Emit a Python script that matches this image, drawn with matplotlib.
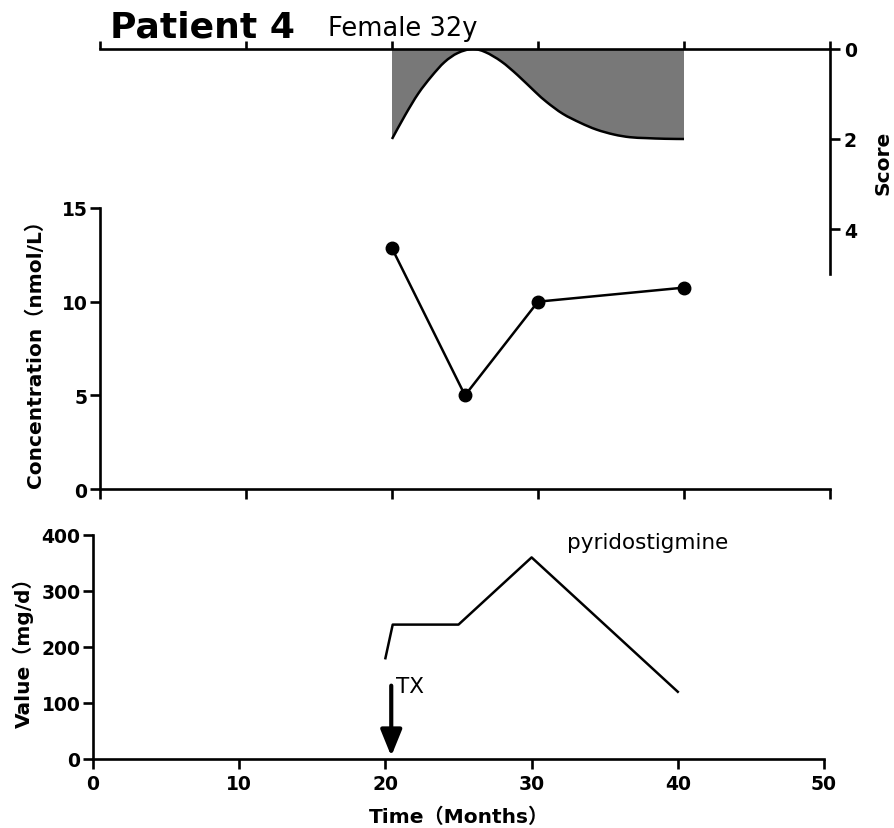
import matplotlib
matplotlib.use("Agg")
import matplotlib.pyplot as plt
from matplotlib.patches import FancyArrowPatch, PathPatch
from matplotlib.path import Path

plt.rcParams['font.family'] = ['DejaVu Sans', 'Noto Sans CJK SC']

# ---------------- data ----------------
score_months = [20, 20.9, 21.8, 22.7, 23.6, 24.5, 25.5, 26.4, 27.5, 28.6, 29.8,
                30.6, 31.7, 32.9, 34.0, 35.2, 36.3, 37.4, 38.7, 40]
score_values = [2.0, 1.47, 0.99, 0.61, 0.29, 0.09, 0.0, 0.07, 0.28, 0.58, 0.95,
                1.18, 1.44, 1.64, 1.79, 1.90, 1.96, 1.98, 1.995, 2.0]

conc_months = [20, 25, 30, 40]
conc_values = [12.85, 5.0, 10.0, 10.75]

dose_months = [20, 20.5, 25, 30, 40]
dose_values = [180, 240, 240, 360, 120]

x_ticks = [0, 10, 20, 30, 40, 50]
score_ticks = [0, 2, 4]
conc_ticks = [0, 5, 10, 15]
dose_ticks = [0, 100, 200, 300, 400]

tx_month = 20.4
tx_arrow_top = 131
tx_arrow_tip = 5

title_text = "Patient 4"
subtitle_text = "Female 32y"
drug_text = "pyridostigmine"

# ---------------- figure ----------------
W, H = 894, 829
fig = plt.figure(figsize=(W / 100, H / 100), dpi=100)

def px_axes(x0, x1, ytop, ybot):
    return fig.add_axes([x0 / W, 1 - ybot / H, (x1 - x0) / W, (ybot - ytop) / H])

LW = 1.9
TICKFS = 13.5
LABFS = 14.5

ax_s = px_axes(100, 830, 50, 275)
ax_c = px_axes(100, 830, 209, 490)
ax_d = px_axes(93, 824, 536, 760)

for ax in (ax_s, ax_c, ax_d):
    ax.set_facecolor('none')
    for sp in ax.spines.values():
        sp.set_linewidth(LW)
    ax.tick_params(width=LW, length=7, labelsize=TICKFS, direction='out')

# ---- top score panel: smooth curve through the read points (Catmull-Rom as Bezier) ----
def smooth_path(xs, ys):
    n = len(xs)
    verts = [(xs[0], ys[0])]
    codes = [Path.MOVETO]
    for i in range(n - 1):
        p0 = (xs[max(i - 1, 0)], ys[max(i - 1, 0)])
        p1 = (xs[i], ys[i])
        p2 = (xs[i + 1], ys[i + 1])
        p3 = (xs[min(i + 2, n - 1)], ys[min(i + 2, n - 1)])
        c1 = (p1[0] + (p2[0] - p0[0]) / 6, p1[1] + (p2[1] - p0[1]) / 6)
        c2 = (p2[0] - (p3[0] - p1[0]) / 6, p2[1] - (p3[1] - p1[1]) / 6)
        verts += [c1, c2, p2]
        codes += [Path.CURVE4] * 3
    return verts, codes

cv, cc = smooth_path(score_months, score_values)
fill_verts = cv + [(score_months[-1], 0), (score_months[0], 0), (score_months[0], score_values[0])]
fill_codes = cc + [Path.LINETO, Path.LINETO, Path.CLOSEPOLY]
ax_s.add_patch(PathPatch(Path(fill_verts, fill_codes), facecolor='#787878',
                         edgecolor='none', lw=0))
ax_s.add_patch(PathPatch(Path(cv, cc), facecolor='none', edgecolor='black', lw=1.8))
ax_s.set_xlim(0, 50)
ax_s.set_ylim(5, 0)
ax_s.spines['left'].set_visible(False)
ax_s.spines['bottom'].set_visible(False)
ax_s.xaxis.tick_top()
ax_s.set_xticks(x_ticks)
ax_s.tick_params(axis='x', labeltop=False, length=5.5)
ax_s.yaxis.tick_right()
ax_s.set_yticks(score_ticks)
ax_s.set_yticklabels([str(t) for t in score_ticks], fontweight='bold', fontsize=TICKFS)
ax_s.tick_params(axis='y', pad=3)
ax_s.yaxis.set_label_position('right')
ax_s.set_ylabel('Score', fontsize=LABFS, fontweight='bold')
ax_s.yaxis.label.set_verticalalignment('center')
ax_s.yaxis.set_label_coords((883 - 100) / 730, 0.5)

# ---- middle concentration panel ----
ax_c.plot(conc_months, conc_values, color='black', lw=1.8, marker='o',
          markersize=9, markerfacecolor='black', clip_on=False)
ax_c.set_xlim(0, 50)
ax_c.set_ylim(0, 15)
ax_c.spines['top'].set_visible(False)
ax_c.spines['right'].set_visible(False)
ax_c.set_xticks(x_ticks)
ax_c.tick_params(axis='x', labelbottom=False)
ax_c.set_yticks(conc_ticks)
ax_c.set_yticklabels([str(t) for t in conc_ticks], fontweight='bold', fontsize=TICKFS)
ax_c.tick_params(axis='y', pad=2)
ax_c.set_ylabel('Concentration（nmol/L）', fontsize=LABFS, fontweight='bold')
ax_c.yaxis.label.set_verticalalignment('center')
ax_c.yaxis.set_label_coords((35 - 100) / 730, 0.5)

# ---- bottom dose panel ----
ax_d.plot(dose_months, dose_values, color='black', lw=1.8)
ax_d.set_xlim(0, 50)
ax_d.set_ylim(0, 400)
ax_d.spines['top'].set_visible(False)
ax_d.spines['right'].set_visible(False)
ax_d.set_xticks(x_ticks)
ax_d.set_xticklabels([str(t) for t in x_ticks], fontweight='bold', fontsize=TICKFS)
ax_d.set_yticks(dose_ticks)
ax_d.set_yticklabels([str(t) for t in dose_ticks], fontweight='bold', fontsize=TICKFS)
ax_d.tick_params(axis='y', pad=2)
ax_d.tick_params(axis='x', pad=4)
ax_d.set_ylabel('Value（mg/d）', fontsize=LABFS, fontweight='bold')
ax_d.yaxis.label.set_verticalalignment('center')
ax_d.yaxis.set_label_coords((23 - 93) / 731, 0.5)
ax_d.set_xlabel('Time（Months）', fontsize=LABFS, fontweight='bold')
ax_d.xaxis.label.set_verticalalignment('center')
ax_d.xaxis.set_label_coords(0.5, (760 - 817) / 224)

arrow = FancyArrowPatch((tx_month, tx_arrow_top), (tx_month, tx_arrow_tip),
                        arrowstyle='-|>,head_length=16,head_width=6.5',
                        mutation_scale=1, lw=3, color='black',
                        shrinkA=0, shrinkB=0)
ax_d.add_patch(arrow)
ax_d.text(tx_month + 0.35, tx_arrow_top, 'TX', fontsize=15.5, va='center', ha='left')
ax_d.text(32.4, 387, drug_text, fontsize=15.5, va='center', ha='left')

# ---- titles ----
fig.text(110 / W, 1 - 38 / H, title_text, fontsize=26, fontweight='bold',
         va='baseline', ha='left')
fig.text(328 / W, 1 - 36 / H, subtitle_text, fontsize=18.5,
         va='baseline', ha='left')

fig.savefig('out.png', dpi=100)
